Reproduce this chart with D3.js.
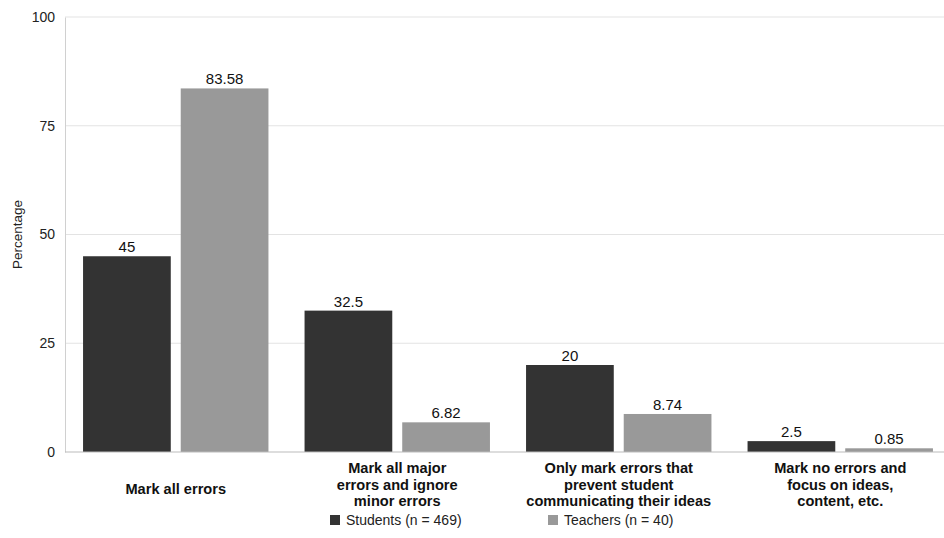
<!DOCTYPE html>
<html>
<head>
<meta charset="utf-8">
<script src="https://cdn.jsdelivr.net/npm/d3@7"></script>
<style>
  html, body { margin: 0; padding: 0; background: #fff; }
  svg { display: block; font-family: "Liberation Sans", Arial, Helvetica, sans-serif; }
</style>
</head>
<body>
<svg id="chart" width="944" height="538"></svg>
<script>
// Error-marking preferences, percentages by group
const categories = [
  ["Mark all errors"],
  ["Mark all major", "errors and ignore", "minor errors"],
  ["Only mark errors that", "prevent student", "communicating their ideas"],
  ["Mark no errors and", "focus on ideas,", "content, etc."]
];
const seriesNames = ["Students (n = 469)", "Teachers (n = 40)"];
const students = [45, 32.5, 20, 2.5];
const teachers = [83.58, 6.82, 8.74, 0.85];
const yTicks = [0, 25, 50, 75, 100];
const colors = ["#333333", "#999999"];

const svg = d3.select("#chart");
const plotLeft = 65, plotRight = 951, plotTop = 17, plotBottom = 452;

const x0 = d3.scaleBand()
  .domain(d3.range(categories.length))
  .range([plotLeft, plotRight])
  .paddingInner(0.163)
  .paddingOuter(0.0815);

const x1 = d3.scaleBand()
  .domain([0, 1])
  .range([0, x0.bandwidth()])
  .paddingInner(0.102);

const y = d3.scaleLinear().domain([0, 100]).range([plotBottom, plotTop]);

// grid lines
svg.append("g")
  .selectAll("line")
  .data(yTicks.filter(d => d > 0))
  .join("line")
  .attr("x1", plotLeft).attr("x2", 944)
  .attr("y1", d => y(d)).attr("y2", d => y(d))
  .attr("stroke", "#e3e3e3").attr("stroke-width", 1);

// y axis
const yAxis = svg.append("g")
  .attr("transform", `translate(${plotLeft},0)`)
  .call(d3.axisLeft(y).tickValues(yTicks).tickSize(0).tickPadding(10));
yAxis.select(".domain").attr("stroke", "#d0d0d0");
yAxis.selectAll("text")
  .attr("font-size", 14).attr("fill", "#222")
  .attr("font-family", "'Liberation Sans', Arial, sans-serif");

svg.append("text")
  .attr("transform", `translate(22,${(plotTop + plotBottom) / 2}) rotate(-90)`)
  .attr("text-anchor", "middle")
  .attr("font-size", 13.5).attr("fill", "#222")
  .text("Percentage");

// bars
const data = categories.map((c, i) => ({ i, values: [students[i], teachers[i]] }));
const groups = svg.append("g").selectAll("g")
  .data(data)
  .join("g")
  .attr("transform", d => `translate(${x0(d.i)},0)`);

groups.selectAll("rect")
  .data(d => d.values.map((v, s) => ({ v, s })))
  .join("rect")
  .attr("x", d => x1(d.s))
  .attr("width", x1.bandwidth())
  .attr("y", d => y(d.v))
  .attr("height", d => y(0) - y(d.v))
  .attr("fill", d => colors[d.s]);

groups.selectAll("text.val")
  .data(d => d.values.map((v, s) => ({ v, s })))
  .join("text")
  .attr("class", "val")
  .attr("x", d => x1(d.s) + x1.bandwidth() / 2)
  .attr("y", d => y(d.v) - 4)
  .attr("text-anchor", "middle")
  .attr("font-size", 15).attr("fill", "#111")
  .text(d => d.v);

// baseline
svg.append("line")
  .attr("x1", plotLeft).attr("x2", 944)
  .attr("y1", plotBottom).attr("y2", plotBottom)
  .attr("stroke", "#bbbbbb");

// category labels
const labels = svg.append("g").selectAll("text")
  .data(categories)
  .join("text")
  .attr("text-anchor", "middle")
  .attr("font-size", 14.6).attr("font-weight", "bold").attr("fill", "#111")
  .attr("x", (d, i) => x0(i) + x0.bandwidth() / 2)
  .attr("y", d => d.length === 1 ? 494 : 473);
labels.selectAll("tspan")
  .data(d => d)
  .join("tspan")
  .attr("x", function () { return this.parentNode.getAttribute("x"); })
  .attr("dy", (d, i) => i === 0 ? 0 : 16.5)
  .text(d => d);

// legend
const legendX = [330, 548];
const legend = svg.append("g").selectAll("g")
  .data(seriesNames)
  .join("g")
  .attr("transform", (d, i) => `translate(${legendX[i]},520)`);
legend.append("rect")
  .attr("x", 0).attr("y", -5).attr("width", 10).attr("height", 10)
  .attr("fill", (d, i) => colors[i]);
legend.append("text")
  .attr("x", 16).attr("y", 5)
  .attr("font-size", 14).attr("fill", "#222")
  .text(d => d);
</script>
</body>
</html>
